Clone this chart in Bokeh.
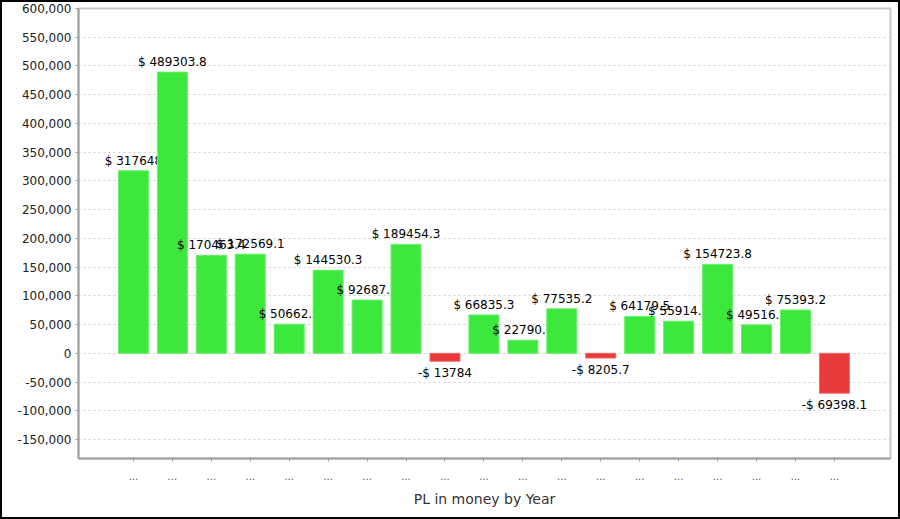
from bokeh.plotting import figure
from bokeh.models import (ColumnDataSource, CDSView, IndexFilter, FixedTicker,
                          NumeralTickFormatter, Range1d)
from bokeh.core.properties import value
from bokeh.embed import file_html
from bokeh.resources import INLINE

# ---- data ----
positions = list(range(1, 20))
pl_values = [317648, 489303.8, 170463.4, 172569.1, 50662.5, 144530.3, 92687.7,
             189454.3, -13784, 66835.3, 22790.7, 77535.2, -8205.7, 64179.5,
             55914.3, 154723.8, 49516.3, 75393.2, -69398.1]
tick_labels = ["..."] * 19
y_ticks = list(range(-150000, 600001, 50000))
axis_title = "PL in money by Year"


def fmt(v):
    s = ("%d" % abs(v)) if float(v).is_integer() else ("%.1f" % abs(v))
    return ("-$ " if v < 0 else "$ ") + s


GREEN = "#3de83d"
RED = "#e8393b"

src = ColumnDataSource(dict(
    x=positions,
    top=pl_values,
    label=[fmt(v) for v in pl_values],
    color=[GREEN if v >= 0 else RED for v in pl_values],
    line=["#6af06a" if v >= 0 else "#f06a6a" for v in pl_values],
    base=["bottom" if v >= 0 else "top" for v in pl_values],
    yoff=[-3 if v >= 0 else 5 for v in pl_values],
))

p = figure(width=900, height=519, output_backend="svg", toolbar_location=None,
           x_range=Range1d(-0.41, 20.44), y_range=Range1d(-183000, 600000),
           min_border_left=78, min_border_right=10, min_border_top=8,
           min_border_bottom=61)
p.styles = {"background-color": "white",
            "box-shadow": "inset 0 0 0 2px black"}

p.background_fill_color = "white"
p.border_fill_color = None
p.outline_line_color = "#c8c8c8"
p.outline_line_width = 2

# interleave bar / label so later bars cover earlier labels
for i in range(len(positions)):
    view = CDSView(filter=IndexFilter([i]))
    p.vbar(x="x", top="top", bottom=0, width=0.77, source=src, view=view,
           fill_color="color", line_color="line", line_width=1)
    p.text(x="x", y="top", text="label", source=src, view=view,
           text_align="center", text_baseline="base", y_offset="yoff",
           text_font=value("DejaVu Sans"), text_font_size="12px",
           text_color="#000000")

# grid
p.xgrid.visible = False
p.ygrid.grid_line_color = "#d0d0d0"
p.ygrid.grid_line_dash = "2 3"
p.ygrid.ticker = FixedTicker(ticks=y_ticks)

# y axis
p.yaxis.ticker = FixedTicker(ticks=y_ticks)
p.yaxis.formatter = NumeralTickFormatter(format="0,0")
p.yaxis.major_label_text_font = "DejaVu Sans"
p.yaxis.major_label_text_font_size = "12px"
p.yaxis.major_label_text_color = "#222222"
p.yaxis.axis_line_color = "#a0a0a0"
p.yaxis.axis_line_width = 2
p.yaxis.major_tick_line_color = "#a0a0a0"
p.yaxis.major_tick_out = 3
p.yaxis.major_tick_in = 0
p.yaxis.minor_tick_line_color = None
p.yaxis.major_label_standoff = 4

# x axis
p.xaxis.ticker = FixedTicker(ticks=positions)
p.xaxis.major_label_overrides = {x: t for x, t in zip(positions, tick_labels)}
p.xaxis.major_label_text_font = "DejaVu Sans"
p.xaxis.major_label_text_font_size = "10px"
p.xaxis.major_label_text_color = "#555555"
p.xaxis.major_label_standoff = 10
p.xaxis.axis_line_color = "#a0a0a0"
p.xaxis.axis_line_width = 2
p.xaxis.major_tick_line_color = "#a0a0a0"
p.xaxis.major_tick_out = 3
p.xaxis.major_tick_in = 0
p.xaxis.minor_tick_line_color = None
p.xaxis.axis_label = axis_title
p.xaxis.axis_label_text_font = "DejaVu Sans"
p.xaxis.axis_label_text_font_size = "14px"
p.xaxis.axis_label_text_font_style = "normal"
p.xaxis.axis_label_text_color = "#333333"
p.xaxis.axis_label_standoff = 8

open("out.html", "w").write(file_html(p, INLINE))
